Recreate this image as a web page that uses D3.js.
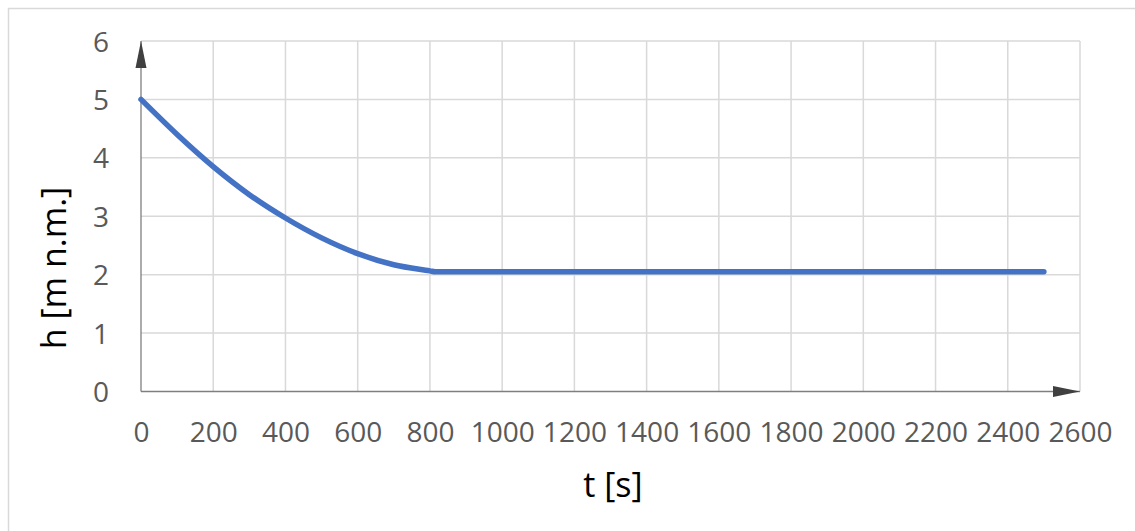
<!DOCTYPE html>
<html>
<head>
<meta charset="utf-8">
<script src="https://cdn.jsdelivr.net/npm/d3@7"></script>
<style>
  body { margin: 0; background: #fff; }
  text { font-family: "Open Sans", sans-serif; }
</style>
</head>
<body>
<div id="chart"></div>
<script>
// Data
const tValues = [0, 100, 200, 300, 400, 500, 600, 700, 800, 815, 1000, 1500, 2000, 2500];
const hValues = [5.0, 4.40, 3.85, 3.37, 2.97, 2.63, 2.36, 2.17, 2.065, 2.05, 2.05, 2.05, 2.05, 2.05];
const xTicks = [0, 200, 400, 600, 800, 1000, 1200, 1400, 1600, 1800, 2000, 2200, 2400, 2600];
const yTicks = [0, 1, 2, 3, 4, 5, 6];

const width = 1135;
const height = 531;

const svg = d3.select("#chart")
  .append("svg")
  .attr("width", width)
  .attr("height", height);

// chart frame
svg.append("rect")
  .attr("x", 8.5)
  .attr("y", 8.5)
  .attr("width", width + 20)
  .attr("height", height + 20)
  .attr("fill", "none")
  .attr("stroke", "#d9d9d9")
  .attr("stroke-width", 1.5);

const x = d3.scaleLinear().domain([0, 2600]).range([141, 1080]);
const y = d3.scaleLinear().domain([0, 6]).range([391.5, 41]);

// gridlines
svg.append("g")
  .selectAll("line.vg")
  .data(xTicks.slice(1))
  .enter()
  .append("line")
  .attr("x1", d => x(d))
  .attr("x2", d => x(d))
  .attr("y1", y(0))
  .attr("y2", y(6))
  .attr("stroke", "#d9d9d9")
  .attr("stroke-width", 1.5);

svg.append("g")
  .selectAll("line.hg")
  .data(yTicks.slice(1))
  .enter()
  .append("line")
  .attr("x1", x(0))
  .attr("x2", x(2600))
  .attr("y1", d => y(d))
  .attr("y2", d => y(d))
  .attr("stroke", "#d9d9d9")
  .attr("stroke-width", 1.5);

// arrow heads
const defs = svg.append("defs");
defs.append("marker")
  .attr("id", "arrow")
  .attr("markerUnits", "userSpaceOnUse")
  .attr("markerWidth", 30)
  .attr("markerHeight", 14)
  .attr("viewBox", "0 -7 30 14")
  .attr("refX", 27)
  .attr("refY", 0)
  .attr("orient", "auto")
  .append("path")
  .attr("d", "M0,-5.5L27,0L0,5.5Z")
  .attr("fill", "#404040");

// axis lines
svg.append("line")
  .attr("x1", x(0))
  .attr("x2", x(2600))
  .attr("y1", y(0))
  .attr("y2", y(0))
  .attr("stroke", "#7f7f7f")
  .attr("stroke-width", 1.3)
  .attr("marker-end", "url(#arrow)");

svg.append("line")
  .attr("x1", x(0))
  .attr("x2", x(0))
  .attr("y1", y(0))
  .attr("y2", y(6))
  .attr("stroke", "#7f7f7f")
  .attr("stroke-width", 1.3)
  .attr("marker-end", "url(#arrow)");

// tick labels
const xAxis = svg.append("g")
  .attr("transform", `translate(0,${y(0)})`)
  .call(d3.axisBottom(x).tickValues(xTicks).tickSize(0).tickFormat(d3.format("d")));
xAxis.select(".domain").remove();
xAxis.selectAll("text")
  .attr("y", 50)
  .attr("dy", 0)
  .attr("fill", "#595959")
  .style("font-size", "28px")
  .style("font-family", "'Open Sans', sans-serif");

const yAxis = svg.append("g")
  .attr("transform", `translate(${x(0)},0)`)
  .call(d3.axisLeft(y).tickValues(yTicks).tickSize(0).tickFormat(d3.format("d")));
yAxis.select(".domain").remove();
yAxis.selectAll("text")
  .attr("x", -32)
  .attr("dy", "0.36em")
  .attr("fill", "#595959")
  .style("font-size", "28px")
  .style("font-family", "'Open Sans', sans-serif");

// data line
const line = d3.line()
  .x((d, i) => x(tValues[i]))
  .y(d => y(d))
  .curve(d3.curveMonotoneX);

svg.append("path")
  .datum(hValues)
  .attr("fill", "none")
  .attr("stroke", "#4472c4")
  .attr("stroke-width", 5.5)
  .attr("stroke-linecap", "round")
  .attr("stroke-linejoin", "round")
  .attr("d", line);

// axis titles
svg.append("text")
  .attr("x", 613)
  .attr("y", 497)
  .attr("text-anchor", "middle")
  .attr("fill", "#000")
  .style("font-size", "34px")
  .text("t [s]");

svg.append("text")
  .attr("transform", "translate(66,268) rotate(-90)")
  .attr("text-anchor", "middle")
  .attr("fill", "#000")
  .style("font-size", "34px")
  .text("h [m n.m.]");
</script>
</body>
</html>
